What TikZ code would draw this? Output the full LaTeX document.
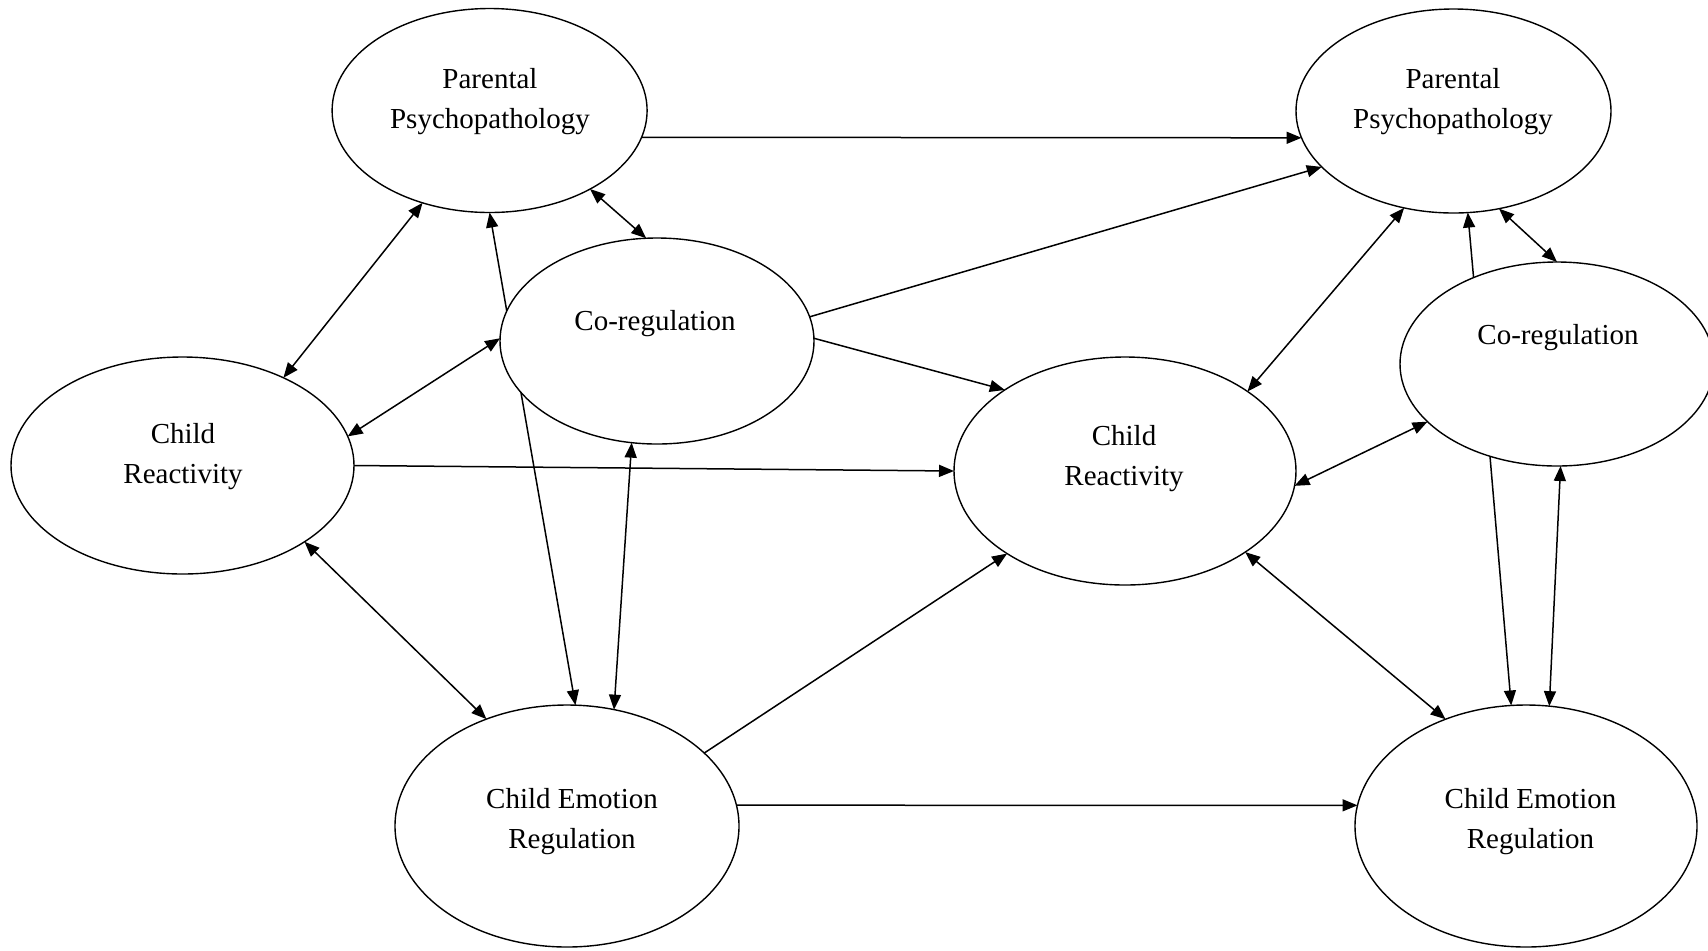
\documentclass[tikz,border=0pt]{standalone}
\usepackage{fontspec}
\setmainfont{Liberation Serif}
\usetikzlibrary{shapes.geometric,arrows.meta,backgrounds}

\tikzset{
  ell/.style={ellipse, draw, fill=white, line width=0.7pt, inner sep=0pt, outer sep=0pt},
  lbl/.style={align=center, font=\fontsize{14.5pt}{19.6pt}\selectfont, inner sep=0pt},
  tip/.style={Triangle[length=7.5pt,width=6pt]},
  link/.style={line width=0.75pt, -{Triangle[length=7.5pt,width=6pt]}},
  twoway/.style={line width=0.75pt, {Triangle[length=7.5pt,width=6pt]}-{Triangle[length=7.5pt,width=6pt]}}
}

\begin{document}
\begin{tikzpicture}[x=0.5pt,y=-0.5pt]
\useasboundingbox (0,0) rectangle (1708,950);
\clip (0,0) rectangle (1708,950);

% latent constructs, first wave
\node[ell, minimum width=157.5pt, minimum height=102pt] (pp1) at (489.6,110.5) {};
\node[ell, minimum width=157pt,   minimum height=103pt] (cr1) at (657,341) {};
\node[ell, minimum width=171.5pt, minimum height=108.5pt] (rx1) at (182.5,465.5) {};
\node[ell, minimum width=172pt,   minimum height=121pt] (er1) at (567,826) {};

% latent constructs, second wave
\node[ell, minimum width=157.5pt, minimum height=102pt] (pp2) at (1453.5,111) {};
\node[ell, minimum width=157pt,   minimum height=102pt] (cr2) at (1557,364) {};
\node[ell, minimum width=171pt,   minimum height=114pt] (rx2) at (1125,471) {};
\node[ell, minimum width=171pt,   minimum height=121pt] (er2) at (1526,826) {};

% labels
\node[lbl] (pp1t) at (490,101.5)    {Parental\\Psychopathology};
\node[lbl] (cr1t) at (655,323.5)    {Co-regulation};
\node[lbl] (rx1t) at (183,456.5)    {Child\\Reactivity};
\node[lbl] (er1t) at (572,821.5)    {Child Emotion\\Regulation};
\node[lbl] (pp2t) at (1453,101.5)   {Parental\\Psychopathology};
\node[lbl] (cr2t) at (1558,337.5)   {Co-regulation};
\node[lbl] (rx2t) at (1124,458.5)   {Child\\Reactivity};
\node[lbl] (er2t) at (1530.5,821.5) {Child Emotion\\Regulation};

\begin{scope}[on background layer]
  % stability paths
  \draw[link] (pp1.-10) -- (pp2.-170);
  \draw[link] (rx1.0) -- (rx2.180);
  \draw[link] (er1.7) -- (er2.173);
  % cross-lagged paths
  \draw[link] (cr1.9) -- (pp2.-157);
  \draw[link] (cr1.1) -- (rx2.146);
  \draw[link] (er1.28.7) -- (rx2.-145.5);
  % within-wave associations, first wave
  \draw[twoway] (pp1.-126.5) -- (rx1.41.3);
  \draw[twoway] (pp1.-38.4) -- (cr1.96.4);
  \draw[twoway] (pp1.-90.5) -- (er1.86);
  \draw[twoway] (cr1.-104.3) -- (er1.68.9);
  \draw[twoway] (cr1.179) -- (rx1.10.5);
  \draw[twoway] (rx1.-32.2) -- (er1.127.8);
  % within-wave associations, second wave
  \draw[twoway] (pp2.-117.1) -- (rx2.33);
  \draw[link] (cr2.134.2) -- (pp2.-82.2);
  \draw[twoway] (pp2.-65) -- (cr2.90.2);
  \draw[twoway] (cr2.-156.8) -- (rx2.-5.6);
  \draw[link] (cr2.-126.9) -- (er2.97.4);
  \draw[twoway] (cr2.-88.7) -- (er2.79.5);
  \draw[twoway] (rx2.-34) -- (er2.127.4);
\end{scope}
\end{tikzpicture}
\end{document}
